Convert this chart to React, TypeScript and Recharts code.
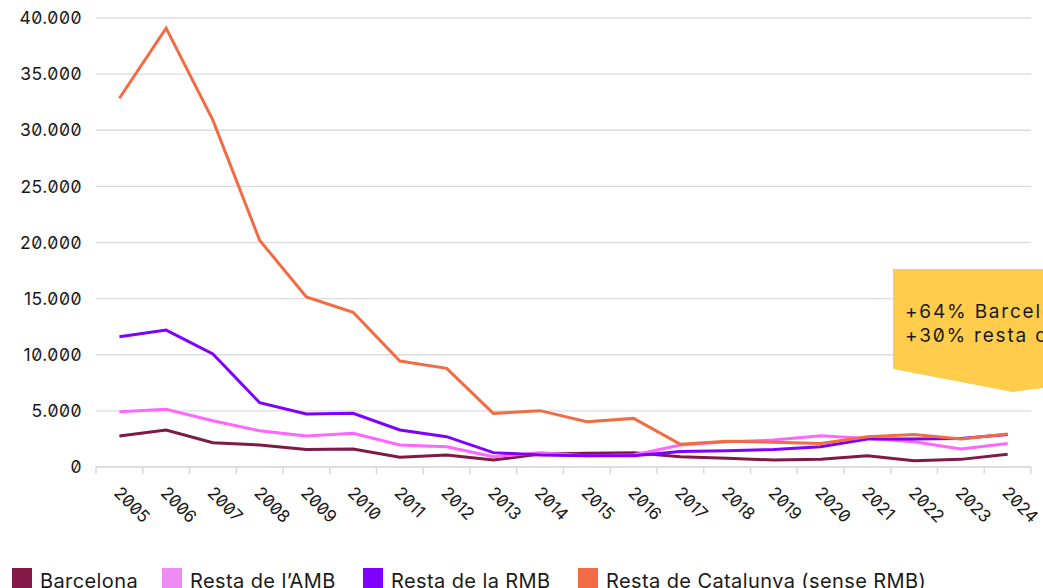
import React from 'react';
import { LineChart, Line, XAxis, YAxis, CartesianGrid } from 'recharts';

const years = ['2005', '2006', '2007', '2008', '2009', '2010', '2011', '2012', '2013', '2014', '2015', '2016', '2017', '2018', '2019', '2020', '2021', '2022', '2023', '2024'];

const barcelona = [2760, 3300, 2170, 1960, 1560, 1600, 860, 1070, 620, 1160, 1220, 1280, 920, 770, 620, 680, 1000, 560, 680, 1130];
const restaAmb = [4930, 5140, 4120, 3230, 2770, 3000, 1960, 1810, 920, 1280, 1000, 1070, 1950, 2250, 2400, 2790, 2550, 2250, 1600, 2100];
const restaRmb = [11600, 12200, 10070, 5730, 4720, 4780, 3300, 2700, 1280, 1070, 1000, 1000, 1370, 1450, 1570, 1800, 2500, 2500, 2550, 2900];
const restaCat = [32850, 39100, 30900, 20200, 15150, 13780, 9440, 8790, 4780, 5020, 4040, 4330, 2030, 2300, 2200, 2100, 2700, 2900, 2500, 2940];

const yTicks = [0, 5000, 10000, 15000, 20000, 25000, 30000, 35000, 40000];

const series = [
  { key: 'barcelona', name: 'Barcelona', line: '#7F1A47', swatch: '#861848' },
  { key: 'amb', name: 'Resta de l\u2019AMB', line: '#FF66FF', swatch: '#EE8BF5' },
  { key: 'rmb', name: 'Resta de la RMB', line: '#8000FF', swatch: '#8000FF' },
  { key: 'cat', name: 'Resta de Catalunya (sense RMB)', line: '#F26B43', swatch: '#F26D45' },
];

const data = years.map((year, i) => ({
  year,
  barcelona: barcelona[i],
  amb: restaAmb[i],
  rmb: restaRmb[i],
  cat: restaCat[i],
}));

const CHART_W = 1043;
const PLOT_LEFT = 96;
const PLOT_RIGHT = 1031;
const STEP = (PLOT_RIGHT - PLOT_LEFT) / years.length;

const fmt = (v: number) => v.toString().replace(/\B(?=(\d{3})+(?!\d))/g, '.');

const YearTick = ({ x, y, payload, index }: any) => {
  const left = x - STEP / 2;
  return (
    <g>
      <line x1={left} y1={y} x2={left} y2={y + 7} stroke="#d9d9d9" strokeWidth={1.5} />
      {index === years.length - 1 && (
        <line x1={x + STEP / 2} y1={y} x2={x + STEP / 2} y2={y + 7} stroke="#d9d9d9" strokeWidth={1.5} />
      )}
      <g transform={`translate(${x - 6.5},${y + 27}) rotate(45)`}>
        <text x={0} y={0} textAnchor="start" fontSize={17} fill="#1a1a1a">
          {payload.value}
        </text>
      </g>
    </g>
  );
};

const legendX = [12, 162, 363, 578];

export default function App() {
  return (
    <div
      style={{
        position: 'absolute',
        left: 0,
        top: 0,
        width: CHART_W,
        height: 588,
        overflow: 'hidden',
        background: '#fff',
        fontFamily: 'Inter, sans-serif',
        fontFeatureSettings: '"zero" 1',
        color: '#1a1a1a',
      }}
    >
      <LineChart width={CHART_W} height={540} data={data} margin={{ top: 18, right: CHART_W - PLOT_RIGHT, left: 0, bottom: 0 }}>
        <CartesianGrid vertical={false} stroke="#dcdcdc" strokeWidth={1.3} />
        <XAxis
          dataKey="year"
          height={73}
          interval={0}
          padding={{ left: STEP / 2, right: STEP / 2 }}
          tickLine={false}
          tickSize={0}
          tickMargin={0}
          stroke="#d9d9d9"
          strokeWidth={1.5}
          tick={<YearTick />}
        />
        <YAxis
          width={PLOT_LEFT}
          domain={[0, 40000]}
          ticks={yTicks}
          tickFormatter={fmt}
          axisLine={false}
          tickLine={false}
          tickSize={0}
          tickMargin={14}
          tick={{ fontSize: 17.5, fill: '#1a1a1a', letterSpacing: 0.5 }}
        />
        {series.map((s) => (
          <Line
            key={s.key}
            dataKey={s.key}
            name={s.name}
            type="linear"
            stroke={s.line}
            strokeWidth={3}
            dot={false}
            activeDot={false}
            isAnimationActive={false}
          />
        ))}
      </LineChart>

      <svg style={{ position: 'absolute', left: 0, top: 0 }} width={CHART_W} height={588}>
        <polygon points="893,269 1043,269 1043,388 1013,392 893,369" fill="#FFCD4B" />
        <text x={905} y={318} fontSize={19} letterSpacing={1.8} fill="#1a1a1a">+64% Barcelona</text>
        <text x={905} y={341.5} fontSize={19} letterSpacing={1.8} fill="#1a1a1a">+30% resta de Catalunya</text>
      </svg>

      {series.map((s, i) => (
        <div key={s.key} style={{ position: 'absolute', left: legendX[i], top: 568, display: 'flex', alignItems: 'flex-start', whiteSpace: 'nowrap' }}>
          <div style={{ width: 20, height: 20, background: s.swatch }} />
          <span style={{ marginLeft: 8, fontSize: 20, letterSpacing: 0.4, lineHeight: '24px', marginTop: 1 }}>{s.name}</span>
        </div>
      ))}
    </div>
  );
}
